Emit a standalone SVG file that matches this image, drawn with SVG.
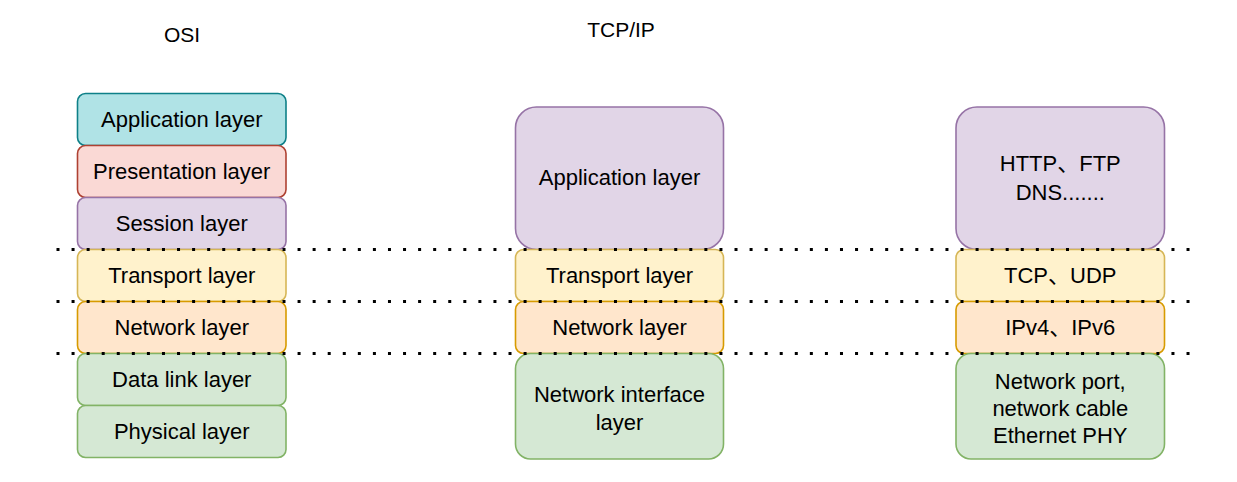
<svg xmlns="http://www.w3.org/2000/svg" width="1237" height="482" viewBox="0 0 1237 482">
<style>
  text { font-family: "Liberation Sans", Arial, "Noto Sans CJK SC", sans-serif; fill: #000; text-anchor: middle; dominant-baseline: central; }
  .t { font-size: 22px; }
  .title { font-size: 21px; }
  .box { stroke-width: 1.6; }
  .app { fill: #b0e3e6; stroke: #0e8088; }
  .pres { fill: #fad9d5; stroke: #ae4132; }
  .sess { fill: #e1d5e7; stroke: #9673a6; }
  .trans { fill: #fff2cc; stroke: #d6b656; }
  .net { fill: #ffe6cc; stroke: #d79b00; }
  .phy { fill: #d5e8d4; stroke: #82b366; }
  .dots { stroke: #000; stroke-width: 3; stroke-dasharray: 3 12.067; fill: none; }
</style>
<rect width="1237" height="482" fill="#fff"/>

<g id="titles">
  <text class="title" x="182" y="34">OSI</text>
  <text class="title" x="621" y="29">TCP/IP</text>
</g>

<!-- OSI column -->
<g id="osi-application"><rect class="box app" x="77.5" y="93.5" width="208.5" height="52" rx="8"/><text class="t" x="181.75" y="119.5">Application layer</text></g>
<g id="osi-presentation"><rect class="box pres" x="77.5" y="145.5" width="208.5" height="52" rx="8"/><text class="t" x="181.75" y="171.5">Presentation layer</text></g>
<g id="osi-session"><rect class="box sess" x="77.5" y="197.5" width="208.5" height="52" rx="8"/><text class="t" x="181.75" y="223.5">Session layer</text></g>
<g id="osi-transport"><rect class="box trans" x="77.5" y="249.5" width="208.5" height="52" rx="8"/><text class="t" x="181.75" y="275.5">Transport layer</text></g>
<g id="osi-network"><rect class="box net" x="77.5" y="301.5" width="208.5" height="52" rx="8"/><text class="t" x="181.75" y="327.5">Network layer</text></g>
<g id="osi-datalink"><rect class="box phy" x="77.5" y="353.5" width="208.5" height="52" rx="8"/><text class="t" x="181.75" y="379.5">Data link layer</text></g>
<g id="osi-physical"><rect class="box phy" x="77.5" y="405.5" width="208.5" height="52" rx="8"/><text class="t" x="181.75" y="431.5">Physical layer</text></g>

<!-- TCP/IP column -->
<g id="tcp-application"><rect class="box sess" x="515.5" y="107" width="208" height="142.5" rx="21"/><text class="t" x="619.5" y="177">Application layer</text></g>
<g id="tcp-transport"><rect class="box trans" x="515.5" y="249.5" width="208" height="52" rx="8"/><text class="t" x="619.5" y="275.5">Transport layer</text></g>
<g id="tcp-network"><rect class="box net" x="515.5" y="301.5" width="208" height="52" rx="8"/><text class="t" x="619.5" y="327.5">Network layer</text></g>
<g id="tcp-netif"><rect class="box phy" x="515.5" y="353.5" width="208" height="105.5" rx="15"/><text class="t" x="619.5" y="394">Network interface</text><text class="t" x="619.5" y="422">layer</text></g>

<!-- Protocols column -->
<g id="proto-application"><rect class="box sess" x="956" y="107" width="208.5" height="142.5" rx="21"/><text class="t" x="1060.25" y="163">HTTP、FTP</text><text class="t" x="1060.25" y="192">DNS.......</text></g>
<g id="proto-transport"><rect class="box trans" x="956" y="249.5" width="208.5" height="52" rx="8"/><text class="t" x="1060.25" y="275.5">TCP、UDP</text></g>
<g id="proto-network"><rect class="box net" x="956" y="301.5" width="208.5" height="52" rx="8"/><text class="t" x="1060.25" y="327.5">IPv4、IPv6</text></g>
<g id="proto-physical"><rect class="box phy" x="956" y="353.5" width="208.5" height="105.5" rx="15"/><text class="t" x="1060.25" y="381">Network port,</text><text class="t" x="1060.25" y="408">network cable</text><text class="t" x="1060.25" y="435">Ethernet PHY</text></g>

<g id="connectors">
  <path class="dots" d="M56.5 249.5H1190"/>
  <path class="dots" d="M56.5 301.5H1190"/>
  <path class="dots" d="M56.5 353.5H1190"/>
</g>
</svg>
